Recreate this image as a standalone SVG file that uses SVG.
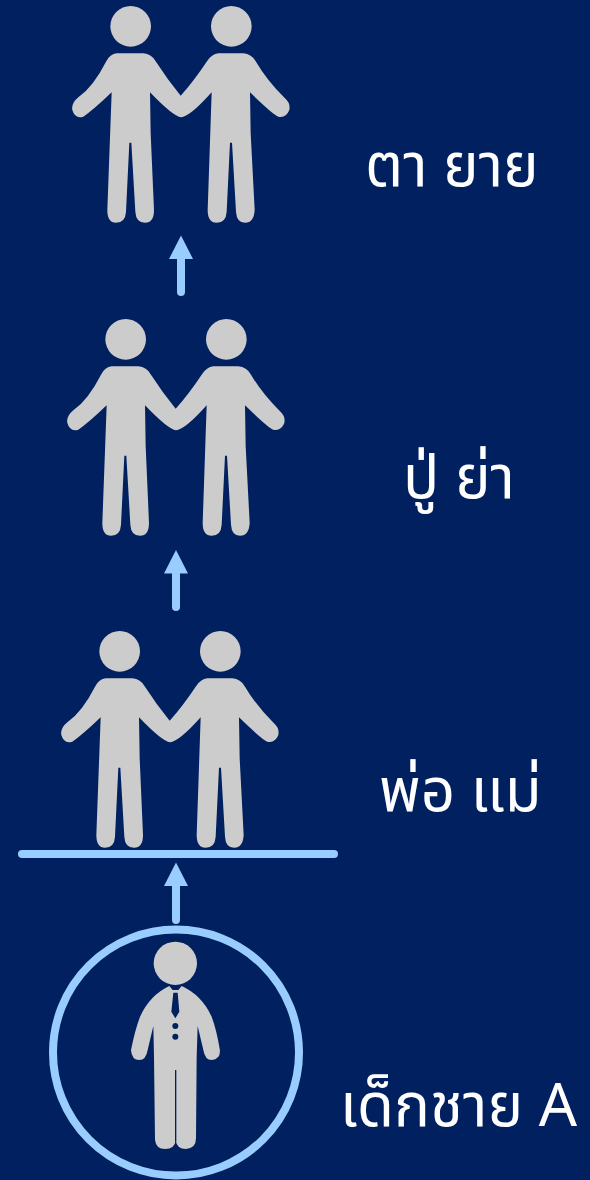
<svg xmlns="http://www.w3.org/2000/svg" width="590" height="1180" viewBox="0 0 590 1180">
<style>
.fig{fill:#ccc}
.blue{fill:#99ccff}
.ln{fill:none;stroke:#99ccff;stroke-width:8;stroke-linecap:round}
.gap{fill:#002060}
text{font-family:"Noto Sans","Noto Sans Thai","DejaVu Sans",sans-serif;font-size:60px;fill:#fff}
</style>
<defs>
<g id="pair" class="fig" transform="translate(50 0) scale(.33333)">
<circle cx="242" cy="79" r="61"/><circle cx="544" cy="79" r="61"/>
<path d="M200 160L280 160Q305 162 318 185Q350 235 392 287Q430 245 470 185Q485 162 505 160L580 160Q605 162 618 185Q650 240 705 295Q722 310 718 330Q708 355 685 350Q670 345 600 277L602 400L614 630Q612 668 585 668Q560 668 558 635L546 428L540 428L530 635Q528 668 500 668Q473 668 473 630L485 277Q420 350 393 352Q370 350 300 277L302 400L312 630Q312 668 285 668Q258 668 256 635L244 428L238 428L228 635Q226 668 198 668Q172 668 172 630L185 277Q130 330 100 350Q75 358 67 330Q63 310 85 292Q130 260 168 185Q180 162 200 160Z"/>
</g>
<path id="head" class="blue" d="M0 0L12 23.500L-12 23.500Z"/>
</defs>
<rect width="590" height="1180" fill="#002060"/>
<g id="connectors">
<path class="ln" d="M181 255V292M176 570V607M176 882V920"/>
<use href="#head" x="181" y="235.500"/>
<use href="#head" x="176" y="550"/>
<use href="#head" x="176" y="862.500"/>
</g>
<g id="node-grandparents-maternal"><use href="#pair"/><text x="365" y="186">ตา ยาย</text></g>
<g id="node-grandparents-paternal"><use href="#pair" x="-5" y="313"/><text x="403" y="498">ปู่ ย่า</text></g>
<g id="node-parents"><use href="#pair" x="-11" y="625"/><text x="379" y="811">พ่อ แม่</text>
<path class="ln" d="M22 854H334"/></g>
<g id="node-boy">
<circle class="ln" cx="176" cy="1052.500" r="123"/>
<g class="fig" transform="translate(40 840) scale(.33333)">
<circle cx="406" cy="370" r="65"/>
<path d="M388 438Q330 465 300 530Q285 570 273 630Q275 660 298 660Q318 660 323 630L340 558L342 650L345 900Q348 927 375 927Q405 927 407 900Q410 927 438 927Q468 925 468 895L470 650L473 558L490 630Q495 660 515 660Q540 658 540 632Q530 570 515 530Q485 465 425 438L415 450L398 450Z"/>
<g class="gap"><path d="M400 458L413 458L418 515L406 535L394 515Z"/><circle cx="406" cy="558" r="9"/><circle cx="406" cy="590" r="9"/><rect x="405" y="690" width="4" height="215"/></g>
</g>
<text x="340" y="1126">เด็กชาย A</text>
</g>
</svg>
